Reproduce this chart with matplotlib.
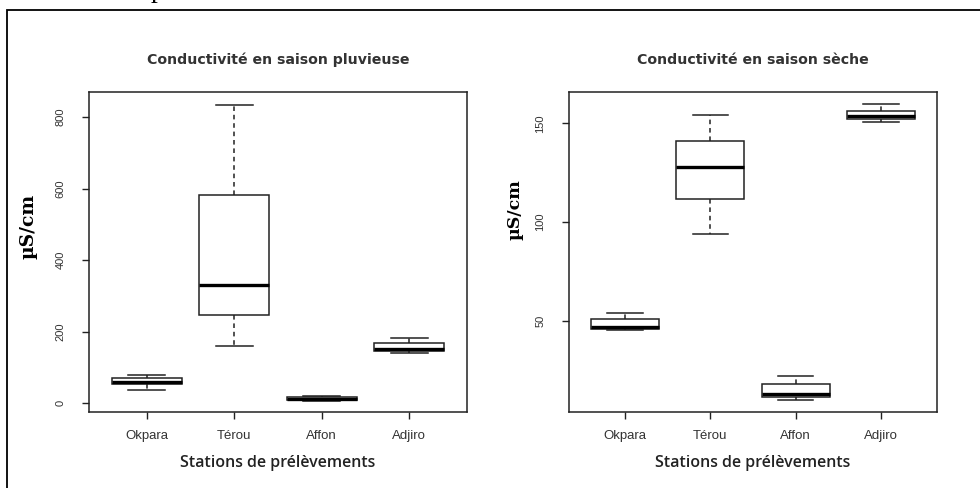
import matplotlib
matplotlib.use("Agg")
import matplotlib.pyplot as plt
from matplotlib.patches import Rectangle

# ── data (box statistics per station) ──
stations = ["Okpara", "Térou", "Affon", "Adjiro"]

# saison pluvieuse
rain_whislo = [36, 160, 7, 141]
rain_q1 = [53, 246, 9, 146]
rain_med = [60, 331, 12, 152]
rain_q3 = [70, 581, 16, 168]
rain_whishi = [78, 835, 21, 182]

# saison sèche
dry_whislo = [45.5, 94, 9.8, 150.8]
dry_q1 = [46, 111.5, 11.5, 152]
dry_med = [47, 128, 12.9, 153.5]
dry_q3 = [50.7, 141, 18, 156.4]
dry_whishi = [54, 154.4, 22, 159.6]

titles = ["Conductivité en saison pluvieuse", "Conductivité en saison sèche"]
ylabel = "µS/cm"
xlabel = "Stations de prélèvements"


def stats(lo, q1, med, q3, hi):
    return [dict(whislo=a, q1=b, med=c, q3=d, whishi=e, label=s)
            for a, b, c, d, e, s in zip(lo, q1, med, q3, hi, stations)]


W, H = 980, 488
fig = plt.figure(figsize=(W / 100, H / 100), dpi=100)

# outer frame of the source page
fig.patches.append(Rectangle((7 / W, -0.02), 1.05, 1 - 10 / H + 0.02,
                             transform=fig.transFigure, fill=False,
                             edgecolor="black", linewidth=1.3))
# cut-off letter from the page above
fig.text(151 / W, 1 + 3 / H, "p", fontsize=20, family="Liberation Serif",
         va="baseline", color="black")

panels = [
    dict(pos=[89 / W, 1 - 412 / H, 378 / W, 320 / H],
         st=stats(rain_whislo, rain_q1, rain_med, rain_q3, rain_whishi),
         ylim=(-25, 870), yticks=[0, 200, 400, 600, 800],
         ylab_xy=(-0.161, 0.581), ylab_size=13.5),
    dict(pos=[569 / W, 1 - 412 / H, 368 / W, 320 / H],
         st=stats(dry_whislo, dry_q1, dry_med, dry_q3, dry_whishi),
         ylim=(3.7, 165.9), yticks=[50, 100, 150],
         ylab_xy=(-0.147, 0.631), ylab_size=12.5),
]

edge = "#222222"
for p, title in zip(panels, titles):
    ax = fig.add_axes(p["pos"])
    ax.bxp(p["st"], positions=[1, 2, 3, 4], widths=0.8, showfliers=False,
           patch_artist=True,
           boxprops=dict(facecolor="white", edgecolor=edge, linewidth=1.1),
           medianprops=dict(color="black", linewidth=2.4, solid_capstyle="butt"),
           whiskerprops=dict(color=edge, linewidth=1.1, linestyle=(0, (3, 2.5))),
           capprops=dict(color=edge, linewidth=1.1),
           capwidths=0.42)
    ax.set_xlim(0.34, 4.66)
    ax.set_ylim(*p["ylim"])
    ax.set_yticks(p["yticks"])
    ax.set_yticklabels([str(v) for v in p["yticks"]], rotation=90, va="center",
                       fontsize=8, family="Liberation Sans", color="#333333")
    ax.set_xticks([1, 2, 3, 4])
    ax.set_xticklabels(stations, fontsize=9.5, family="Liberation Sans",
                       color="#333333")
    ax.tick_params(axis="both", direction="out", length=5, width=1,
                   color=edge)
    ax.tick_params(axis="y", pad=12)
    ax.tick_params(axis="x", pad=8)
    for s in ax.spines.values():
        s.set_linewidth(1.1)
        s.set_color(edge)
    ax.set_title(title, fontsize=10.2, family="DejaVu Sans",
                 fontweight="bold", color="#333333", pad=20)
    ax.set_ylabel(ylabel, fontsize=p["ylab_size"], family="DejaVu Serif",
                  fontweight="bold", va="center")
    ax.yaxis.set_label_coords(*p["ylab_xy"])
    ax.set_xlabel(xlabel, fontsize=11.5, family="Open Sans",
                  fontweight="semibold", color="#222222", va="center")
    ax.xaxis.set_label_coords(0.5, (412 - 463) / 320)

fig.savefig("out.png", dpi=100)
